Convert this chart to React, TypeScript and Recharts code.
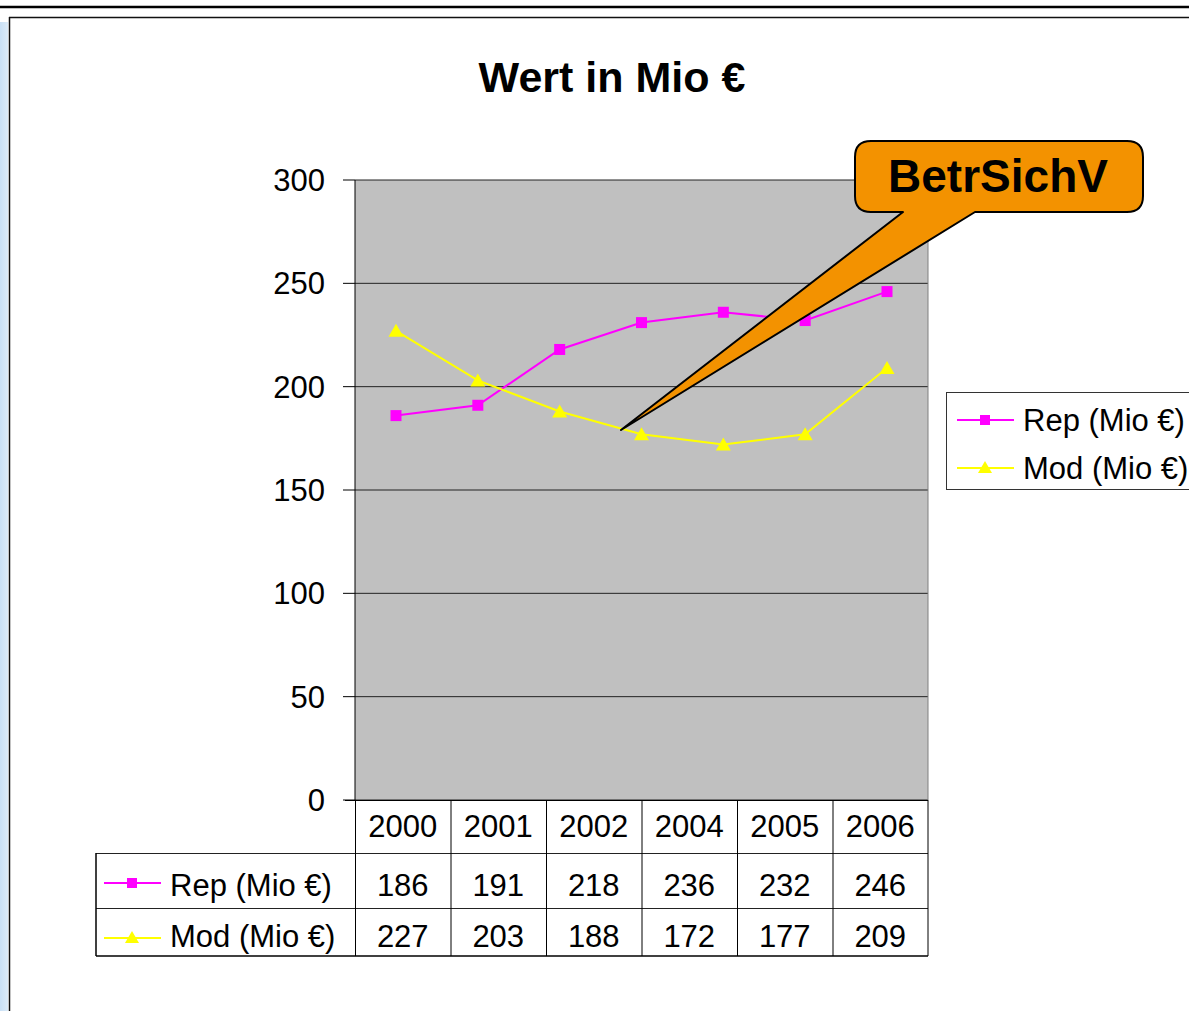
import React from "react";
import { LineChart, Line, XAxis, YAxis, CartesianGrid, Legend } from "recharts";

// chart points (the plot has 7 points, the table below only lists 6 years)
const years = ["2000", "2001", "2002", "2003", "2004", "2005", "2006"];
const repValues = [186, 191, 218, 231, 236, 232, 246];
const modValues = [227, 203, 188, 177, 172, 177, 209];
const yTicks = [0, 50, 100, 150, 200, 250, 300];

// data table under the plot
const tableYears = ["2000", "2001", "2002", "2004", "2005", "2006"];
const tableRep = [186, 191, 218, 236, 232, 246];
const tableMod = [227, 203, 188, 172, 177, 209];

const REP = "Rep (Mio €)";
const MOD = "Mod (Mio €)";
const REP_COLOR = "#FF00FF";
const MOD_COLOR = "#FFFF00";
const FONT = "'Liberation Sans', Arial, sans-serif";

const chartData = years.map((year, i) => ({
  year,
  rep: repValues[i],
  mod: modValues[i],
}));

const SquareDot = (p: any) => {
  if (p.cx == null || p.cy == null) return <g key={`s${p.index}`} />;
  return (
    <rect key={`s${p.index}`} x={p.cx - 5.5} y={p.cy - 5.5} width={11} height={11} fill={REP_COLOR} />
  );
};

const TriangleDot = (p: any) => {
  if (p.cx == null || p.cy == null) return <g key={`t${p.index}`} />;
  const { cx, cy } = p;
  return (
    <polygon
      key={`t${p.index}`}
      points={`${cx},${cy - 7} ${cx + 7.5},${cy + 6} ${cx - 7.5},${cy + 6}`}
      fill={MOD_COLOR}
    />
  );
};

// small legend key (line + marker) used in the legend and in the table
const Key = ({ x, y, kind }: { x: number; y: number; kind: "rep" | "mod" }) => {
  const color = kind === "rep" ? REP_COLOR : MOD_COLOR;
  return (
    <g>
      <line x1={x} x2={x + 57} y1={y} y2={y} stroke={color} strokeWidth={2} />
      {kind === "rep" ? (
        <rect x={x + 23} y={y - 5} width={10} height={10} fill={color} />
      ) : (
        <polygon points={`${x + 28},${y - 7} ${x + 35},${y + 5} ${x + 21},${y + 5}`} fill={color} />
      )}
    </g>
  );
};

const SideLegend = (props: any) => {
  // Rep first, as in the original
  const items = [...(props.payload || [])].sort((a: any, b: any) =>
    a.value === REP ? -1 : b.value === REP ? 1 : 0
  );
  return (
    <svg width={250} height={98} style={{ display: "block" }}>
      <rect x={0.5} y={0.5} width={260} height={97} fill="#fff" stroke="#333" />
      {items.map((it: any, i: number) => (
        <g key={it.value}>
          <Key x={11} y={28 + i * 48} kind={it.value === REP ? "rep" : "mod"} />
          <text x={77} y={39 + i * 48} fontSize={31} fontFamily={FONT} fill="#000">
            {it.value}
          </text>
        </g>
      ))}
    </svg>
  );
};

const DataTable = () => {
  const left = 355;
  const right = 928;
  const colW = (right - left) / tableYears.length;
  const rows = [
    { label: REP, values: tableRep, kind: "rep" as const, top: 853, base: 896 },
    { label: MOD, values: tableMod, kind: "mod" as const, top: 908, base: 947 },
  ];
  return (
    <g fontFamily={FONT} fontSize={31} fill="#000">
      {/* header row */}
      <line x1={345} x2={right} y1={800.5} y2={800.5} stroke="#000" />
      {tableYears.map((y, i) => (
        <text key={y} x={left + colW * (i + 0.5)} y={837} textAnchor="middle">
          {y}
        </text>
      ))}
      {/* value rows */}
      {rows.map((r) => (
        <g key={r.label}>
          <line x1={96} x2={right} y1={r.top + 0.5} y2={r.top + 0.5} stroke="#222" />
          <Key x={104} y={r.top + 30} kind={r.kind} />
          <text x={170} y={r.base}>{r.label}</text>
          {r.values.map((v, i) => (
            <text key={i} x={left + colW * (i + 0.5)} y={r.base} textAnchor="middle">
              {v}
            </text>
          ))}
        </g>
      ))}
      <line x1={96} x2={right} y1={956} y2={956} stroke="#000" strokeWidth={1.5} />
      <line x1={96} x2={96} y1={853} y2={956} stroke="#000" strokeWidth={1.5} />
      {tableYears.map((_, i) => (
        <line
          key={i}
          x1={left + colW * i + 0.5}
          x2={left + colW * i + 0.5}
          y1={800}
          y2={956}
          stroke="#000"
        />
      ))}
      <line x1={right} x2={right} y1={800} y2={956} stroke="#000" />
    </g>
  );
};

export default function App() {
  return (
    <div
      style={{
        position: "absolute",
        left: 0,
        top: 0,
        width: 1189,
        height: 1011,
        overflow: "hidden",
        background: "#fff",
        fontFamily: FONT,
      }}
    >
      {/* slide frame */}
      <svg width={1189} height={1011} style={{ position: "absolute", left: 0, top: 0 }}>
        <defs>
          <linearGradient id="strip" x1="0" x2="1" y1="0" y2="0">
            <stop offset="0" stopColor="#c9e0f5" />
            <stop offset="1" stopColor="#dcebf8" />
          </linearGradient>
        </defs>
        <rect x={0} y={22} width={8} height={989} fill="url(#strip)" />
        <line x1={0} x2={1189} y1={7} y2={7} stroke="#000" strokeWidth={2.5} />
        <line x1={9} x2={1189} y1={17.5} y2={17.5} stroke="#111" strokeWidth={1.5} />
        <line x1={9.5} x2={9.5} y1={17} y2={1011} stroke="#111" strokeWidth={1.5} />
        <text x={612} y={92} textAnchor="middle" fontSize={43} fontWeight="bold" fontFamily={FONT}>
          Wert in Mio €
        </text>
      </svg>

      <div style={{ position: "absolute", left: 0, top: 0 }}>
        <LineChart
          width={1189}
          height={1011}
          data={chartData}
          margin={{ top: 180, right: 261, bottom: 211, left: 275 }}
        >
          <CartesianGrid vertical={false} stroke="#222" fill="#C0C0C0" fillOpacity={1} />
          <XAxis dataKey="year" hide padding={{ left: 41, right: 41 }} />
          <YAxis
            width={80}
            domain={[0, 300]}
            ticks={yTicks}
            interval={0}
            tickSize={12}
            tickMargin={18}
            axisLine={{ stroke: "#000" }}
            tickLine={{ stroke: "#000" }}
            tick={{ fill: "#000", fontSize: 31, fontFamily: FONT }}
          />
          <Legend
            layout="vertical"
            align="center"
            verticalAlign="middle"
            content={<SideLegend />}
            wrapperStyle={{ left: 946, top: 392, width: 250, height: 98 }}
          />
          <Line
            dataKey="rep"
            name={REP}
            stroke={REP_COLOR}
            strokeWidth={2}
            dot={SquareDot}
            activeDot={false}
            isAnimationActive={false}
          />
          <Line
            dataKey="mod"
            name={MOD}
            stroke={MOD_COLOR}
            strokeWidth={2}
            dot={TriangleDot}
            activeDot={false}
            isAnimationActive={false}
          />
        </LineChart>
      </div>

      {/* plot border, data table and callout */}
      <svg
        width={1189}
        height={1011}
        style={{ position: "absolute", left: 0, top: 0, pointerEvents: "none" }}
      >
        <line x1={928} x2={928} y1={180} y2={800} stroke="#808080" />
        <DataTable />
        <path
          d="M 871 141 H 1127 Q 1143 141 1143 157 V 196 Q 1143 212 1127 212 H 975 L 621 430 L 903 212 H 871 Q 855 212 855 196 V 157 Q 855 141 871 141 Z"
          fill="#F39200"
          stroke="#000"
          strokeWidth={2}
          strokeLinejoin="round"
        />
        <text
          x={998}
          y={192}
          textAnchor="middle"
          fontSize={46}
          fontWeight="bold"
          fontFamily={FONT}
          fill="#000"
        >
          BetrSichV
        </text>
      </svg>
    </div>
  );
}
